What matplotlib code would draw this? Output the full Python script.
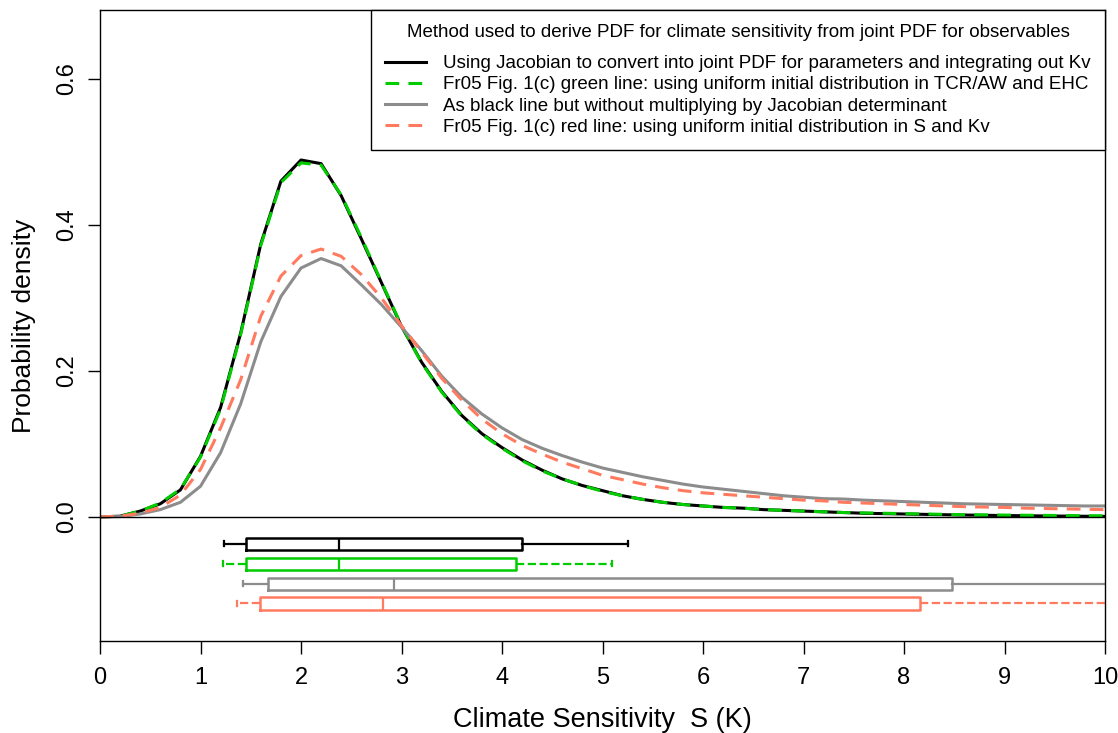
import numpy as np
import matplotlib
matplotlib.use("Agg")
import matplotlib.pyplot as plt

plt.rcParams['font.family'] = ['Liberation Sans', 'DejaVu Sans']

# climate sensitivity grid (K)
s_grid = np.linspace(0, 10, 51)

# PDFs
pdf_jacobian = [0.000, 0.001, 0.008, 0.018, 0.037, 0.083, 0.150, 0.252, 0.374, 0.460,
                0.489, 0.484, 0.440, 0.381, 0.321, 0.261, 0.212, 0.172, 0.139, 0.114,
                0.095, 0.078, 0.064, 0.052, 0.043, 0.036, 0.029, 0.024, 0.020, 0.017,
                0.015, 0.013, 0.012, 0.010, 0.009, 0.008, 0.007, 0.006, 0.005, 0.0045,
                0.004, 0.0035, 0.003, 0.0026, 0.0022, 0.0019, 0.0016, 0.0013, 0.0011, 0.0009, 0.0007]
pdf_fr05_green = [0.000, 0.001, 0.008, 0.019, 0.038, 0.082, 0.148, 0.250, 0.372, 0.458,
                  0.485, 0.482, 0.441, 0.383, 0.322, 0.262, 0.211, 0.171, 0.138, 0.113,
                  0.094, 0.077, 0.063, 0.052, 0.043, 0.035, 0.029, 0.024, 0.020, 0.017,
                  0.015, 0.013, 0.012, 0.010, 0.009, 0.008, 0.007, 0.006, 0.0055, 0.005,
                  0.0045, 0.004, 0.0035, 0.003, 0.0028, 0.0025, 0.0023, 0.0021, 0.0019, 0.0017, 0.0015]
pdf_no_jacobian = [0.000, 0.0005, 0.004, 0.010, 0.020, 0.042, 0.088, 0.155, 0.240, 0.302,
                   0.341, 0.354, 0.344, 0.318, 0.291, 0.260, 0.228, 0.193, 0.164, 0.141,
                   0.122, 0.106, 0.094, 0.084, 0.075, 0.067, 0.061, 0.055, 0.050, 0.045,
                   0.041, 0.038, 0.035, 0.032, 0.029, 0.027, 0.025, 0.0245, 0.023, 0.022,
                   0.021, 0.020, 0.019, 0.018, 0.0175, 0.017, 0.0165, 0.016, 0.0155, 0.015, 0.015]
pdf_fr05_red = [0.000, 0.001, 0.005, 0.013, 0.030, 0.065, 0.122, 0.188, 0.275, 0.330,
                0.358, 0.367, 0.357, 0.332, 0.300, 0.262, 0.226, 0.190, 0.160, 0.134,
                0.114, 0.098, 0.086, 0.075, 0.066, 0.057, 0.051, 0.045, 0.040, 0.036,
                0.033, 0.031, 0.029, 0.027, 0.025, 0.023, 0.022, 0.020, 0.019, 0.018,
                0.017, 0.016, 0.015, 0.014, 0.0135, 0.013, 0.012, 0.0115, 0.011, 0.0105, 0.010]

labels = [
    "Using Jacobian to convert into joint PDF for parameters and integrating out Kv",
    "Fr05 Fig. 1(c) green line: using uniform initial distribution in TCR/AW and EHC",
    "As black line but without multiplying by Jacobian determinant",
    "Fr05 Fig. 1(c) red line: using uniform initial distribution in S and Kv",
]

# box plot summaries (5%, 25%, 50%, 75%, 95%) - upper whiskers of last two run off the axis
box_lo = [1.23, 1.22, 1.42, 1.36]
box_q1 = [1.45, 1.45, 1.67, 1.59]
box_med = [2.38, 2.38, 2.93, 2.82]
box_q3 = [4.20, 4.14, 8.48, 8.16]
box_hi = [5.25, 5.09, 12.0, 12.0]

colors = ['black', '#00CC00', '#8C8C8C', '#FF7A5E']
styles = ['-', '--', '-', '--']

fig = plt.figure(figsize=(11.18, 7.33), dpi=100)
ax = fig.add_axes([100 / 1118, 1 - 641 / 733, 1005 / 1118, 631 / 733])

curves = [pdf_jacobian, pdf_fr05_green, pdf_no_jacobian, pdf_fr05_red]
for ys, c, ls, lab in zip(curves, colors, styles, labels):
    line, = ax.plot(s_grid, ys, color=c, lw=2.2, ls=ls, label=lab)
    if ls == '--':
        line.set_dashes((4.5, 3))

ax.axhline(0, color='black', lw=1.0)

# box plots below the zero line
box_y = -0.037 - 0.0272 * np.arange(4)
for i in range(4):
    stats = [dict(whislo=box_lo[i], q1=box_q1[i], med=box_med[i], q3=box_q3[i], whishi=box_hi[i])]
    c = colors[i]
    ax.bxp(stats, positions=[box_y[i]], widths=0.0165, capwidths=0.007,
           orientation='horizontal', showfliers=False, manage_ticks=False,
           boxprops=dict(color=c, lw=1.8),
           whiskerprops=dict(color=c, lw=1.6, ls=styles[i]),
           capprops=dict(color=c, lw=1.6),
           medianprops=dict(color=c, lw=1.6))

ax.set_xlim(0, 10)
ax.set_ylim(-0.170, 0.6945)
ax.set_xticks(range(0, 11))
ax.set_yticks([0.0, 0.2, 0.4, 0.6])
ax.set_yticklabels(['0.0', '0.2', '0.4', '0.6'], rotation=90, va='center')
ax.tick_params(axis='both', direction='out', length=9, width=1.0, labelsize=17)
ax.tick_params(axis='x', pad=10)
ax.tick_params(axis='y', pad=7)
for sp in ax.spines.values():
    sp.set_linewidth(1.0)

ax.set_xlabel('Climate Sensitivity  S (K)', fontsize=19.5, labelpad=13)
ax.set_ylabel('Probability density', fontsize=19, labelpad=14)

leg = ax.legend(loc='upper right', borderaxespad=0, fontsize=13.5,
                title='Method used to derive PDF for climate sensitivity from joint PDF for observables',
                title_fontsize=13.5, fancybox=False, edgecolor='black', framealpha=1,
                handlelength=2.2, handletextpad=0.9, labelspacing=0.22, borderpad=0.75)
leg.get_frame().set_linewidth(1.0)
leg._legend_box.sep = 10

fig.savefig('out.png', dpi=100)
